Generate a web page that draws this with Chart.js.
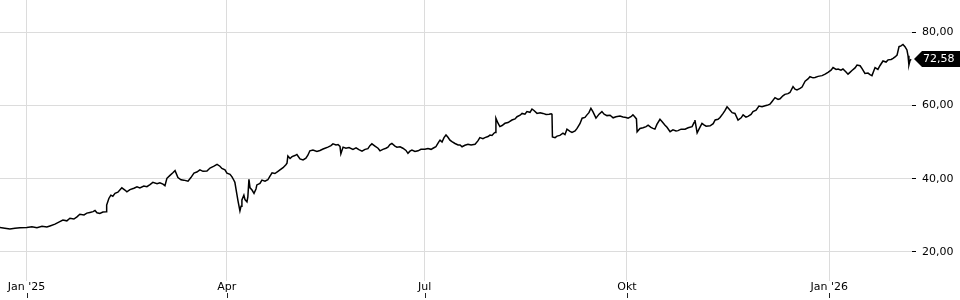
<!DOCTYPE html>
<html>
<head>
<meta charset="utf-8">
<script src="https://cdn.jsdelivr.net/npm/chart.js@4.4.1/dist/chart.umd.min.js"></script>
<style>
  body { margin: 0; background: #fff; }
</style>
</head>
<body>
<canvas id="kurs" width="960" height="300"></canvas>
<script>
// Tage seit 1. Jan 2025
const tage = [
  -12.1, -9.9, -7.6, -5.3, -3.0, 0.1, 2.4, 4.7, 7.0, 9.2, 10.6, 12.9, 15.1, 16.5, 18.3, 19.7, 21.5, 22.9, 24.2, 26.1,
  27.4, 28.8, 30.2, 31.1, 32.0, 33.3, 34.7, 36.1, 36.4, 37.4, 38.3, 39.2, 40.2, 41.5, 43.3, 44.7, 45.6, 47.0, 48.8, 50.2,
  51.5, 53.3, 54.7, 56.1, 57.4, 59.3, 60.6, 62.0, 62.9, 63.8, 65.2, 66.5, 67.5, 68.8, 70.2, 71.5, 73.4, 74.7, 76.1, 77.4,
  78.8, 80.2, 82.0, 83.4, 85.2, 86.6, 87.9, 88.8, 90.2, 91.1, 92.5, 93.4, 94.3, 94.7, 95.6, 96.1, 97.0, 97.5, 97.9, 98.8,
  99.3, 100.2, 100.6, 101.1, 101.6, 102.5, 103.4, 104.3, 104.7, 106.1, 107.0, 108.4, 109.7, 110.6, 111.6, 112.9, 114.3, 115.2, 116.6, 117.9,
  118.4, 118.8, 119.8, 120.7, 122.0, 122.9, 124.3, 125.7, 127.0, 127.9, 128.8, 130.2, 132.0, 133.4, 134.8, 135.7, 137.0, 138.4, 139.3, 140.7,
  141.6, 142.5, 142.9, 143.9, 145.2, 146.6, 148.4, 149.8, 151.1, 152.5, 153.9, 155.2, 156.1, 157.0, 158.4, 159.8, 160.7, 162.0, 163.4, 164.3,
  165.2, 166.1, 167.5, 168.4, 169.8, 171.1, 172.5, 173.4, 174.3, 175.2, 176.6, 178.0, 179.3, 181.1, 182.5, 183.9, 184.8, 186.1, 186.6, 187.5,
  188.0, 188.9, 189.8, 190.7, 191.6, 192.5, 193.4, 194.8, 196.2, 197.1, 198.0, 199.3, 200.7, 202.1, 203.9, 205.2, 206.1, 207.5, 208.4, 209.8,
  210.7, 211.6, 212.5, 213.0, 213.4, 214.3, 215.2, 216.2, 217.5, 218.9, 220.7, 222.1, 223.0, 224.4, 225.3, 226.6, 227.5, 228.9, 229.8, 230.7,
  232.1, 233.5, 234.8, 236.2, 237.6, 238.5, 238.9, 239.1, 240.3, 241.2, 242.5, 243.9, 244.8, 245.7, 247.1, 248.0, 249.4, 250.3, 251.6, 252.6,
  253.9, 254.8, 255.7, 256.6, 257.5, 258.9, 260.3, 261.6, 262.6, 263.9, 265.3, 266.7, 268.0, 269.8, 271.2, 272.6, 273.5, 274.8, 275.7, 276.6,
  277.3, 277.6, 278.9, 280.3, 281.7, 282.6, 283.9, 284.8, 285.7, 286.6, 288.0, 288.9, 290.3, 291.2, 292.6, 293.9, 295.3, 296.2, 297.6, 299.4,
  300.8, 302.6, 303.5, 303.9, 304.9, 305.8, 307.1, 308.0, 309.0, 310.8, 312.2, 313.1, 314.4, 315.3, 316.7, 317.6, 318.5, 319.4, 320.8, 322.1,
  323.5, 324.9, 325.8, 327.1, 328.0, 329.4, 330.3, 331.7, 333.0, 334.4, 335.8, 336.7, 338.0, 338.9, 340.3, 341.7, 342.6, 343.9, 344.8, 346.2,
  347.1, 348.5, 349.4, 350.3, 351.7, 352.6, 354.0, 355.3, 356.2, 357.6, 358.5, 359.9, 361.7, 363.1, 364.4, 365.8, 366.7, 368.1, 369.0, 370.3,
  371.2, 372.6, 373.5, 374.4, 375.3, 376.7, 377.6, 379.0, 379.9, 381.2, 382.6, 383.5, 384.4, 385.8, 387.1, 388.0, 389.4, 390.8, 391.7, 393.1,
  394.0, 394.9, 395.8, 396.7, 397.6, 398.5, 399.4, 400.3, 400.8, 401.2, 401.7, 402.2
];

const kurse = [
  26.7, 26.5, 26.3, 26.5, 26.6, 26.7, 26.9, 26.6, 27.0, 26.8, 27.1, 27.6, 28.3, 28.7, 28.5, 29.2, 29.0, 29.6, 30.3, 30.1,
  30.6, 30.8, 31.0, 31.3, 30.7, 30.5, 30.9, 31.0, 32.8, 34.6, 35.5, 35.2, 36.0, 36.3, 37.5, 36.9, 36.4, 37.0, 37.4, 37.8,
  37.5, 38.0, 37.8, 38.4, 39.0, 38.6, 38.9, 38.5, 38.1, 40.1, 40.9, 41.6, 42.2, 40.3, 39.7, 39.6, 39.3, 40.3, 41.5, 41.8,
  42.4, 42.0, 42.1, 42.9, 43.4, 43.9, 43.4, 42.8, 42.4, 41.5, 41.2, 40.5, 39.5, 39.0, 35.8, 34.0, 31.2, 32.5, 34.2, 35.5,
  34.3, 33.7, 35.0, 39.8, 37.5, 36.9, 36.0, 37.2, 38.3, 38.7, 39.6, 39.3, 39.7, 40.6, 41.6, 41.4, 42.0, 42.4, 43.0, 43.8,
  44.2, 46.2, 45.5, 46.0, 46.3, 46.6, 45.4, 45.1, 45.6, 46.4, 47.6, 47.8, 47.4, 47.7, 48.1, 48.3, 48.6, 49.0, 49.5, 49.2,
  49.3, 48.8, 46.8, 48.6, 48.3, 48.5, 48.0, 48.4, 47.9, 47.5, 48.0, 48.2, 49.0, 49.5, 48.9, 48.3, 47.6, 48.0, 48.3, 48.6,
  49.3, 49.6, 48.9, 48.6, 48.7, 48.3, 47.7, 46.9, 47.5, 47.8, 47.4, 47.6, 48.0, 48.0, 48.2, 48.0, 48.3, 48.7, 49.2, 50.1,
  50.5, 50.0, 51.2, 51.9, 51.3, 50.5, 50.1, 49.6, 49.2, 49.2, 48.7, 49.1, 49.4, 49.2, 49.4, 50.3, 51.2, 50.9, 51.2, 51.5,
  51.9, 51.8, 52.4, 52.6, 56.5, 55.2, 54.2, 54.5, 55.1, 55.3, 56.0, 56.3, 56.9, 57.3, 57.8, 57.6, 58.3, 58.1, 59.0, 58.6,
  57.8, 58.0, 57.8, 57.5, 57.6, 57.7, 57.6, 51.4, 51.2, 51.6, 51.8, 52.4, 52.0, 53.5, 52.9, 52.6, 53.0, 53.7, 55.0, 56.5,
  56.7, 57.4, 58.0, 59.2, 58.3, 56.5, 57.6, 58.3, 57.6, 57.2, 57.3, 56.6, 56.9, 57.1, 56.8, 56.7, 56.5, 56.9, 57.4, 56.8,
  56.3, 52.8, 53.7, 53.9, 54.2, 54.6, 54.0, 53.7, 53.5, 54.8, 56.2, 55.6, 54.6, 54.0, 52.8, 53.3, 53.0, 53.1, 53.5, 53.5,
  53.9, 54.2, 55.3, 56.0, 52.5, 53.6, 55.1, 54.7, 54.3, 54.4, 55.0, 56.0, 56.2, 56.7, 57.8, 58.6, 59.6, 59.0, 58.0, 57.8,
  56.0, 56.6, 57.4, 56.8, 57.0, 57.5, 58.3, 58.7, 59.8, 59.6, 59.9, 60.0, 60.3, 61.0, 62.1, 61.6, 61.8, 62.6, 63.0, 63.2,
  63.5, 65.1, 64.4, 64.2, 64.6, 65.0, 66.6, 67.2, 67.8, 67.5, 67.6, 67.9, 68.1, 68.5, 69.0, 69.6, 70.3, 69.8, 69.9, 69.6,
  69.9, 69.1, 68.5, 69.0, 69.5, 70.2, 71.0, 70.8, 70.0, 68.7, 68.8, 68.4, 68.1, 70.3, 69.8, 70.8, 72.1, 71.8, 72.4, 72.5,
  72.8, 73.2, 73.7, 76.0, 76.2, 76.6, 76.0, 75.1, 73.5, 71.0, 72.2, 72.58
];

const tickTage = [0, 91, 181, 273, 365];
const tickNamen = ["Jan '25", 'Apr', 'Jul', 'Okt', "Jan '26"];
const yTicks = [20, 40, 60, 80];

const schrift = { family: 'DejaVu Sans', size: 11 };
const fmt = v => v.toFixed(2).replace('.', ',');

// kleine Striche unter den Monatsnamen + Kursfahne rechts
const extras = {
  id: 'extras',
  afterDraw(chart) {
    const ctx = chart.ctx;
    const xs = chart.scales.x;
    const ys = chart.scales.y;
    ctx.save();
    ctx.strokeStyle = '#222';
    ctx.lineWidth = 1;
    tickTage.forEach(t => {
      const px = Math.round(xs.getPixelForValue(t)) + 0.5;
      ctx.beginPath();
      ctx.moveTo(px, 293);
      ctx.lineTo(px, 298);
      ctx.stroke();
    });

    const letzter = kurse[kurse.length - 1];
    const py = Math.round(ys.getPixelForValue(letzter));
    const x0 = chart.chartArea.right + 2;
    ctx.fillStyle = '#000';
    ctx.beginPath();
    ctx.moveTo(x0, py);
    ctx.lineTo(x0 + 8, py - 8);
    ctx.lineTo(960, py - 8);
    ctx.lineTo(960, py + 8);
    ctx.lineTo(x0 + 8, py + 8);
    ctx.closePath();
    ctx.fill();
    ctx.fillStyle = '#fff';
    ctx.font = '11px "DejaVu Sans"';
    ctx.textBaseline = 'middle';
    ctx.textAlign = 'left';
    ctx.fillText(fmt(letzter), 923, py + 0.5);
    ctx.restore();
  }
};

new Chart(document.getElementById('kurs').getContext('2d'), {
  type: 'line',
  data: {
    datasets: [{
      data: tage.map((t, i) => ({ x: t, y: kurse[i] })),
      borderColor: '#000',
      borderWidth: 1.5,
      pointRadius: 0,
      tension: 0,
      fill: false
    }]
  },
  options: {
    responsive: false,
    animation: false,
    layout: { padding: 0 },
    plugins: { legend: { display: false }, tooltip: { enabled: false } },
    scales: {
      x: {
        type: 'linear',
        min: -12.1,
        max: 402.6,
        afterBuildTicks: s => { s.ticks = tickTage.map(v => ({ value: v })); },
        afterFit: s => {
          s.height = 19;
          s.paddingLeft = 0; s.paddingRight = 0; s.paddingTop = 0; s.paddingBottom = 0;
        },
        ticks: {
          callback: (v, i) => tickNamen[i],
          font: schrift,
          color: '#000',
          padding: 0,
          maxRotation: 0,
          autoSkip: false
        },
        grid: { color: '#dcdcdc', drawTicks: false },
        border: { display: false }
      },
      y: {
        position: 'right',
        min: 12.09,
        max: 88.73,
        afterBuildTicks: s => { s.ticks = yTicks.map(v => ({ value: v })); },
        afterFit: s => {
          s.width = 48;
          s.paddingLeft = 0; s.paddingRight = 0; s.paddingTop = 0; s.paddingBottom = 0;
        },
        ticks: {
          callback: v => fmt(v),
          font: schrift,
          color: '#000',
          padding: 6
        },
        grid: { color: '#dcdcdc', tickColor: '#000', tickLength: 4 },
        border: { display: false }
      }
    }
  },
  plugins: [extras]
});
</script>
</body>
</html>
